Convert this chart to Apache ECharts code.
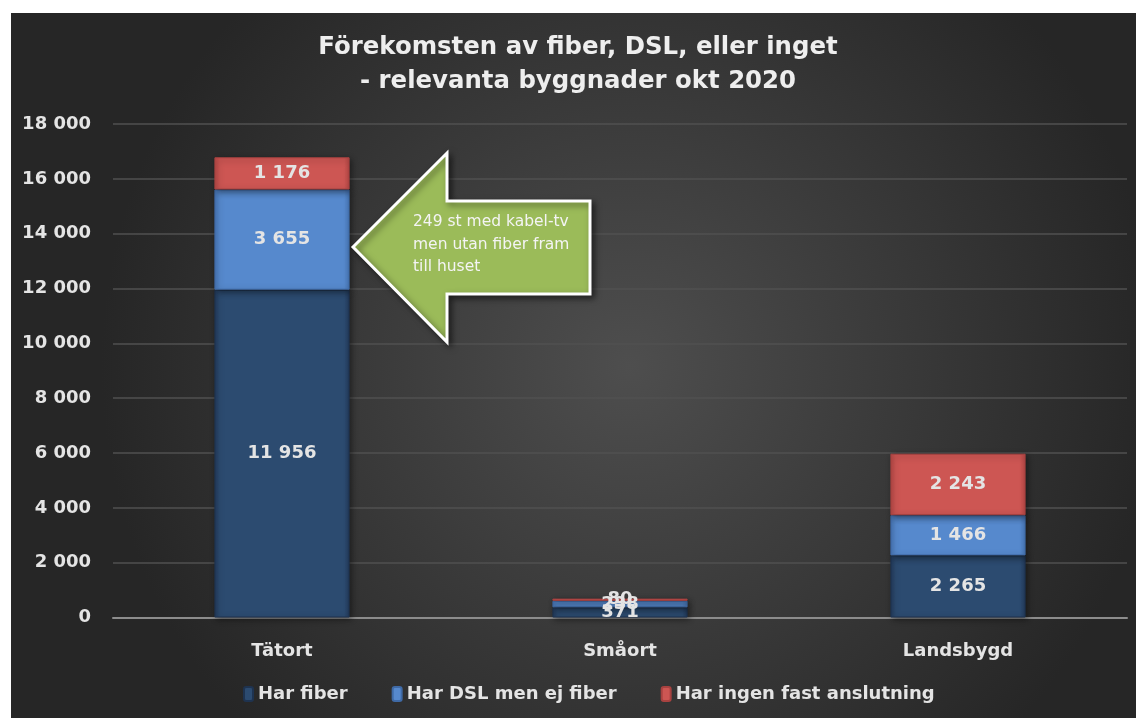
<!DOCTYPE html>
<html>
<head>
<meta charset="utf-8">
<script src="https://cdn.jsdelivr.net/npm/echarts@6/dist/echarts.min.js"></script>
<style>
html,body{margin:0;padding:0;background:#fff;width:1136px;height:718px;overflow:hidden;}
#c{position:absolute;left:11px;top:13px;width:1125px;height:705px;}
</style>
</head>
<body>
<div id="c"></div>
<script>
var categories = ['Tätort', 'Småort', 'Landsbygd'];
var harFiber = [11956, 371, 2265];
var harDSL = [3655, 238, 1466];
var harIngen = [1176, 80, 2243];
var seriesNames = ['Har fiber', 'Har DSL men ej fiber', 'Har ingen fast anslutning'];
var titleLines = ['Förekomsten av fiber, DSL, eller inget', '- relevanta byggnader okt 2020'];
var annotationText = ['249 st med kabel-tv', 'men utan fiber fram', 'till huset'];

var FONT = '"DejaVu Sans", Verdana, sans-serif';
function fmt(v){ return String(v).replace(/\B(?=(\d{3})+(?!\d))/g, ' '); }

var chart = echarts.init(document.getElementById('c'), null, {renderer:'canvas'});

function barStyle(c1, c2, border){
  return {
    color: new echarts.graphic.LinearGradient(0,0,1,0,[
      {offset:0, color:c2},{offset:0.04, color:c1},{offset:0.96, color:c1},{offset:1, color:c2}
    ]),
    borderColor: border, borderWidth: 1,
    shadowColor:'rgba(0,0,0,0.45)', shadowBlur:6, shadowOffsetX:2, shadowOffsetY:2
  };
}
var labelCfg = {
  show:true, position:'inside', color:'#e4e4e4', fontFamily:FONT, fontWeight:'bold', fontSize:18,
  formatter:function(p){ return fmt(p.value); }
};

var option = {
  backgroundColor: new echarts.graphic.RadialGradient(0.55,0.5,0.75,[
    {offset:0, color:'#4e4e4e'},{offset:1, color:'#262626'}
  ]),
  animation:false,
  title:{
    text: titleLines.join('\n'),
    left:562, textAlign:'center', top:13,
    textStyle:{color:'#eeeeee', fontFamily:FONT, fontWeight:'bold', fontSize:24.4, lineHeight:34}
  },
  legend:{
    top:667, left:227,
    itemWidth:9, itemHeight:14, itemGap:44,
    textStyle:{color:'#e4e4e4', fontFamily:FONT, fontWeight:'bold', fontSize:18, padding:[0,0,0,0]},
    data: seriesNames
  },
  grid:{left:102, right:9, top:111, bottom:100.5},
  xAxis:{
    type:'category', data:categories,
    axisLine:{lineStyle:{color:'#8c8c8c', width:2}},
    axisTick:{show:false},
    axisLabel:{color:'#e4e4e4', fontFamily:FONT, fontWeight:'bold', fontSize:18, margin:25}
  },
  yAxis:{
    type:'value', min:0, max:18000, interval:2000,
    axisLine:{show:false}, axisTick:{show:false},
    splitLine:{lineStyle:{color:'#505050', width:1.5}},
    axisLabel:{color:'#e4e4e4', fontFamily:FONT, fontWeight:'bold', fontSize:18, margin:22,
      formatter:function(v){ return fmt(v); }}
  },
  series:[
    {name:seriesNames[0], type:'bar', stack:'s', barWidth:'40%', data:harFiber,
      itemStyle: barStyle('#2c4b70','#22395a','#1e3350'), label:labelCfg},
    {name:seriesNames[1], type:'bar', stack:'s', data:harDSL,
      itemStyle: barStyle('#5689cd','#4674b3','#3f6aa6'), label:labelCfg},
    {name:seriesNames[2], type:'bar', stack:'s', data:harIngen,
      itemStyle: barStyle('#cd5653','#b34644','#a84240'), label:labelCfg}
  ],
  graphic:[
    {
      type:'polygon',
      shape:{points:[[342,234],[436,140],[436,188],[579,188],[579,281],[436,281],[436,329]]},
      style:{fill:'#9bbb59', stroke:'#ffffff', lineWidth:3,
        shadowColor:'rgba(0,0,0,0.5)', shadowBlur:6, shadowOffsetX:3, shadowOffsetY:3},
      z:100
    },
    {
      type:'text', left:402, top:198, z:101,
      style:{text:annotationText.join('\n'), fill:'#f4f4f4', font:'15.5px ' + FONT, lineHeight:22.5}
    }
  ]
};
chart.setOption(option);
</script>
</body>
</html>
